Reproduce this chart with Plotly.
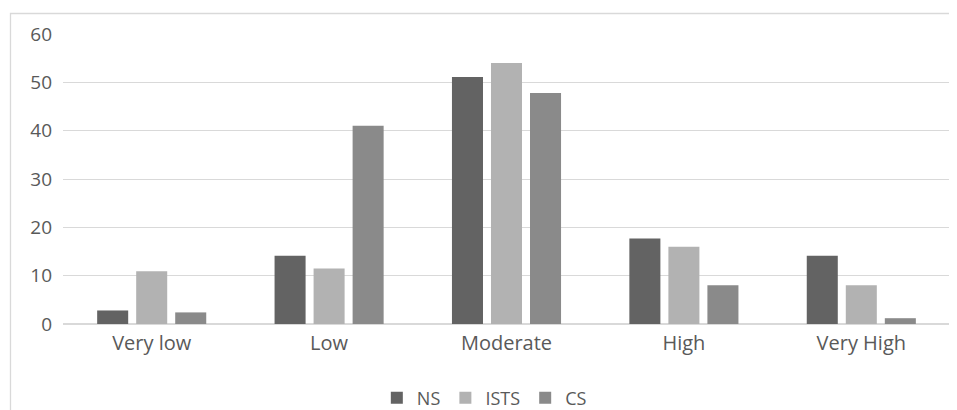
import plotly.graph_objects as go

categories = ["Very low", "Low", "Moderate", "High", "Very High"]
ns = [2.8, 14.1, 51.1, 17.7, 14.1]
ists = [10.9, 11.5, 54.0, 16.0, 8.0]
cs = [2.4, 41.0, 47.8, 8.0, 1.2]

series = [("NS", ns, "#636363"), ("ISTS", ists, "#b2b2b2"), ("CS", cs, "#8a8a8a")]

fig = go.Figure()
for name, vals, col in series:
    fig.add_trace(go.Bar(x=categories, y=vals, name=name, marker=dict(color=col, line=dict(width=0))))

OFF = 8  # page body margin
W, H = 957 - OFF, 410 - OFF
L, T = 63 - OFF, 34 - OFF
R = W - (950 - OFF)
B = H - (324 - OFF)
pw, ph = W - L - R, H - T - B

fig.update_layout(
    width=W, height=H,
    margin=dict(l=L, r=R, t=T, b=B, autoexpand=False),
    paper_bgcolor="white", plot_bgcolor="white",
    barmode="group", bargap=0.34, bargroupgap=0.205,
    font=dict(family="Open Sans, Liberation Sans, sans-serif", size=18, color="#595959"),
    showlegend=True,
    legend=dict(orientation="h", x=0.475, xanchor="center", y=-(398 - 324) / ph, yanchor="middle",
                font=dict(size=18, color="#595959"), itemwidth=30, traceorder="normal"),
    xaxis=dict(showgrid=False, showline=False, ticks="", ticklabelstandoff=5,
               tickfont=dict(size=20, color="#595959")),
    yaxis=dict(range=[0, 60], dtick=10, showgrid=True, gridcolor="#d9d9d9", gridwidth=1.3,
               zeroline=True, zerolinecolor="#d9d9d9", zerolinewidth=1.5, showline=False,
               ticks="", ticklabelstandoff=10, tickfont=dict(size=19, color="#595959")),
)

fig.add_shape(type="rect", xref="paper", yref="paper",
              x0=(10.5 - 63) / pw, x1=(957 + 5 - 63) / pw,
              y0=-(410 + 5 - 324) / ph, y1=1 + (34 - 13.5) / ph,
              line=dict(color="#d9d9d9", width=1.3), fillcolor="rgba(0,0,0,0)", layer="below")

fig.write_html("out.html")
